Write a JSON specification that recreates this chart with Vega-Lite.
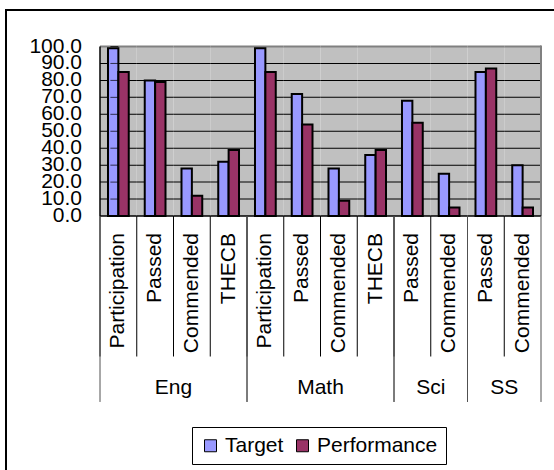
{
  "$schema": "https://vega.github.io/schema/vega-lite/v6.json",
  "width": 552,
  "height": 464,
  "autosize": {"type": "none"},
  "padding": {"left": 6, "top": 10, "right": -4, "bottom": -4},
  "background": "white",
  "config": {
    "font": "Liberation Sans",
    "view": {"stroke": "black", "strokeWidth": 2}
  },
  "datasets": {
    "main": [
      {"group": "Eng", "measure": "Participation", "key": "Eng|Participation", "Target": 99, "Performance": 85},
      {"group": "Eng", "measure": "Passed", "key": "Eng|Passed", "Target": 80, "Performance": 79},
      {"group": "Eng", "measure": "Commended", "key": "Eng|Commended", "Target": 28, "Performance": 12},
      {"group": "Eng", "measure": "THECB", "key": "Eng|THECB", "Target": 32, "Performance": 39},
      {"group": "Math", "measure": "Participation", "key": "Math|Participation", "Target": 99, "Performance": 85},
      {"group": "Math", "measure": "Passed", "key": "Math|Passed", "Target": 72, "Performance": 54},
      {"group": "Math", "measure": "Commended", "key": "Math|Commended", "Target": 28, "Performance": 9},
      {"group": "Math", "measure": "THECB", "key": "Math|THECB", "Target": 36, "Performance": 39},
      {"group": "Sci", "measure": "Passed", "key": "Sci|Passed", "Target": 68, "Performance": 55},
      {"group": "Sci", "measure": "Commended", "key": "Sci|Commended", "Target": 25, "Performance": 5},
      {"group": "SS", "measure": "Passed", "key": "SS|Passed", "Target": 85, "Performance": 87},
      {"group": "SS", "measure": "Commended", "key": "SS|Commended", "Target": 30, "Performance": 5}
    ],
    "groups": [
      {"group": "Eng", "first": "Eng|Participation", "last": "Eng|THECB", "mid": "Eng|Commended"},
      {"group": "Math", "first": "Math|Participation", "last": "Math|THECB", "mid": "Math|Commended"},
      {"group": "Sci", "first": "Sci|Passed", "last": "Sci|Commended", "mid": "Sci|Commended"},
      {"group": "SS", "first": "SS|Passed", "last": "SS|Commended", "mid": "SS|Commended"}
    ],
    "yticks": [{"v": 0}, {"v": 10}, {"v": 20}, {"v": 30}, {"v": 40}, {"v": 50}, {"v": 60}, {"v": 70}, {"v": 80}, {"v": 90}, {"v": 100}],
    "plot": [{"first": "Eng|Participation", "last": "SS|Commended"}]
  },
  "layer": [
    {"data": {"name": "main"}, "mark": {"type": "bar", "color": "#C0C0C0"},
     "encoding": {"x": {"field": "key", "type": "nominal", "axis": null,
                        "scale": {"domain": ["Eng|Participation", "Eng|Passed", "Eng|Commended", "Eng|THECB", "Math|Participation", "Math|Passed", "Math|Commended", "Math|THECB", "Sci|Passed", "Sci|Commended", "SS|Passed", "SS|Commended"], "range": [94, 535], "paddingInner": 0, "paddingOuter": 0}},
                  "y": {"datum": 0, "type": "quantitative", "axis": null, "scale": {"domain": [0, 100], "range": [206, 36.5], "nice": false, "zero": false}},
                  "y2": {"datum": 100}}},
    {"data": {"name": "main"}, "mark": {"type": "bar", "color": "black"},
     "encoding": {"x": {"field": "key", "type": "nominal", "axis": null}, "y": {"datum": 10.3, "type": "quantitative", "axis": null}, "y2": {"datum": 9.7}}},
    {"data": {"name": "main"}, "mark": {"type": "bar", "color": "black"},
     "encoding": {"x": {"field": "key", "type": "nominal", "axis": null}, "y": {"datum": 20.3, "type": "quantitative", "axis": null}, "y2": {"datum": 19.7}}},
    {"data": {"name": "main"}, "mark": {"type": "bar", "color": "black"},
     "encoding": {"x": {"field": "key", "type": "nominal", "axis": null}, "y": {"datum": 30.3, "type": "quantitative", "axis": null}, "y2": {"datum": 29.7}}},
    {"data": {"name": "main"}, "mark": {"type": "bar", "color": "black"},
     "encoding": {"x": {"field": "key", "type": "nominal", "axis": null}, "y": {"datum": 40.3, "type": "quantitative", "axis": null}, "y2": {"datum": 39.7}}},
    {"data": {"name": "main"}, "mark": {"type": "bar", "color": "black"},
     "encoding": {"x": {"field": "key", "type": "nominal", "axis": null}, "y": {"datum": 50.3, "type": "quantitative", "axis": null}, "y2": {"datum": 49.7}}},
    {"data": {"name": "main"}, "mark": {"type": "bar", "color": "black"},
     "encoding": {"x": {"field": "key", "type": "nominal", "axis": null}, "y": {"datum": 60.3, "type": "quantitative", "axis": null}, "y2": {"datum": 59.7}}},
    {"data": {"name": "main"}, "mark": {"type": "bar", "color": "black"},
     "encoding": {"x": {"field": "key", "type": "nominal", "axis": null}, "y": {"datum": 70.3, "type": "quantitative", "axis": null}, "y2": {"datum": 69.7}}},
    {"data": {"name": "main"}, "mark": {"type": "bar", "color": "black"},
     "encoding": {"x": {"field": "key", "type": "nominal", "axis": null}, "y": {"datum": 80.3, "type": "quantitative", "axis": null}, "y2": {"datum": 79.7}}},
    {"data": {"name": "main"}, "mark": {"type": "bar", "color": "black"},
     "encoding": {"x": {"field": "key", "type": "nominal", "axis": null}, "y": {"datum": 90.3, "type": "quantitative", "axis": null}, "y2": {"datum": 89.7}}},
    {"data": {"name": "main"}, "mark": {"type": "bar", "color": "#808080"},
     "encoding": {"x": {"field": "key", "type": "nominal", "axis": null}, "y": {"datum": 100.6, "type": "quantitative", "axis": null}, "y2": {"datum": 99.4}}},
    {
      "data": {"name": "plot"},
      "mark": {"type": "rule", "color": "#808080", "strokeWidth": 2},
      "encoding": {
        "x": {"field": "last", "type": "nominal", "bandPosition": 1, "axis": null},
        "y": {"datum": 0, "type": "quantitative", "axis": null},
        "y2": {"datum": 100.6}
      }
    },
    {
      "data": {"name": "main"},
      "transform": [{"fold": ["Target", "Performance"], "as": ["series", "value"]}],
      "mark": {"type": "bar", "stroke": "black", "strokeWidth": 2},
      "encoding": {
        "x": {"field": "key", "type": "nominal", "axis": null},
        "xOffset": {"field": "series", "type": "nominal", "scale": {"domain": ["Target", "Performance"], "paddingInner": 0, "paddingOuter": 0.77}},
        "y": {"field": "value", "type": "quantitative", "axis": null},
        "color": {"field": "series", "type": "nominal",
                  "scale": {"domain": ["Target", "Performance"], "range": ["#9999FF", "#993366"]},
                  "legend": {"title": null, "orient": "none", "legendX": 186, "legendY": 417, "direction": "horizontal",
                             "strokeColor": "black", "fillColor": "white", "padding": 8, "cornerRadius": 0,
                             "symbolType": "square", "symbolSize": 144, "symbolStrokeColor": "black", "symbolStrokeWidth": 1,
                             "symbolOpacity": 1, "labelFont": "Liberation Sans", "labelFontSize": 21, "labelColor": "black",
                             "columnPadding": 8, "labelOffset": 4}}
      }
    },
    {"data": {"name": "main"}, "mark": {"type": "bar", "color": "black"},
     "encoding": {"x": {"field": "key", "type": "nominal", "axis": null}, "y": {"datum": 0.45, "type": "quantitative", "axis": null}, "y2": {"datum": -0.45}}},
    {
      "data": {"name": "plot"},
      "mark": {"type": "rule", "color": "black", "strokeWidth": 1.5},
      "encoding": {
        "x": {"field": "first", "type": "nominal", "bandPosition": 0, "axis": null},
        "y": {"datum": 0, "type": "quantitative", "axis": null},
        "y2": {"datum": 100}
      }
    },
    {
      "data": {"name": "yticks"},
      "mark": {"type": "tick", "orient": "horizontal", "color": "black", "thickness": 1, "size": 8, "xOffset": -4},
      "encoding": {
        "x": {"datum": "Eng|Participation", "type": "nominal", "bandPosition": 0, "axis": null},
        "y": {"field": "v", "type": "quantitative", "axis": null}
      }
    },
    {
      "data": {"name": "yticks"},
      "mark": {"type": "text", "align": "right", "baseline": "middle", "fontSize": 21, "font": "Liberation Sans", "color": "black", "dx": -18},
      "encoding": {
        "x": {"datum": "Eng|Participation", "type": "nominal", "bandPosition": 0, "axis": null},
        "y": {"field": "v", "type": "quantitative", "axis": null},
        "text": {"field": "v", "type": "quantitative", "format": ".1f"}
      }
    },
    {
      "data": {"name": "main"},
      "mark": {"type": "rule", "color": "black", "strokeWidth": 1},
      "encoding": {
        "x": {"field": "key", "type": "nominal", "bandPosition": 0, "axis": null},
        "y": {"datum": 0, "type": "quantitative", "axis": null},
        "y2": {"datum": -82.9}
      }
    },
    {
      "data": {"name": "groups"},
      "mark": {"type": "rule", "color": "#505050", "strokeWidth": 1},
      "encoding": {
        "x": {"field": "first", "type": "nominal", "bandPosition": 0, "axis": null},
        "y": {"datum": 0, "type": "quantitative", "axis": null},
        "y2": {"datum": -109.7}
      }
    },
    {
      "data": {"name": "groups"},
      "mark": {"type": "rule", "color": "#505050", "strokeWidth": 1},
      "encoding": {
        "x": {"field": "last", "type": "nominal", "bandPosition": 1, "axis": null},
        "y": {"datum": 0, "type": "quantitative", "axis": null},
        "y2": {"datum": -109.7}
      }
    },
    {
      "data": {"name": "main"},
      "mark": {"type": "text", "angle": 270, "align": "right", "baseline": "middle", "fontSize": 21, "font": "Liberation Sans", "color": "black"},
      "encoding": {
        "x": {"field": "key", "type": "nominal", "axis": null},
        "y": {"datum": -10, "type": "quantitative", "axis": null},
        "text": {"field": "measure"}
      }
    },
    {
      "data": {"name": "groups"},
      "mark": {"type": "text", "align": "center", "baseline": "middle", "fontSize": 21, "font": "Liberation Sans", "color": "black"},
      "encoding": {
        "x": {"field": "mid", "type": "nominal", "bandPosition": 0, "axis": null},
        "y": {"datum": -101.2, "type": "quantitative", "axis": null},
        "text": {"field": "group"}
      }
    }
  ]
}
